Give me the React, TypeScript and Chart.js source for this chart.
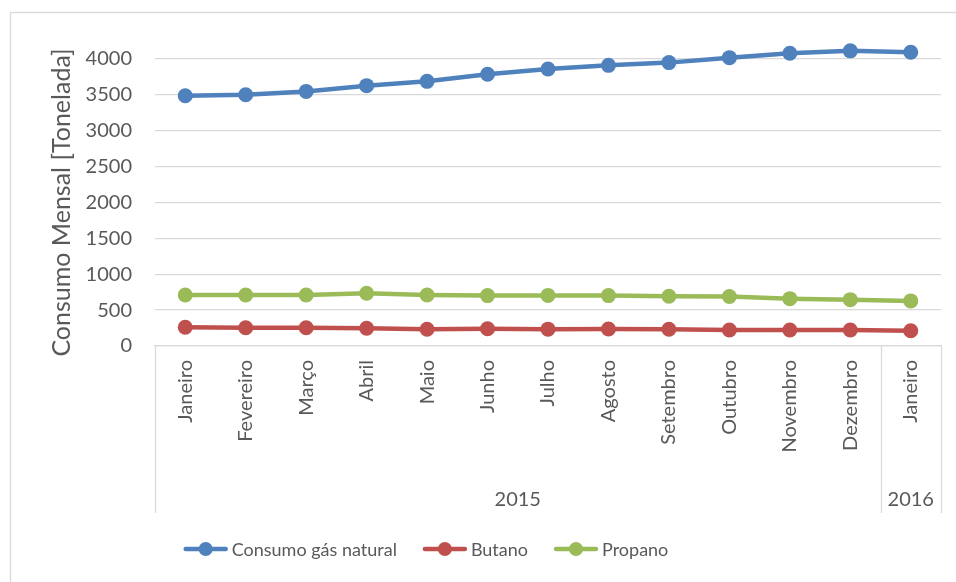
import React, { useEffect, useRef } from "react";
import { Chart, registerables } from "chart.js";

Chart.register(...registerables);

// Monthly categories (inner level) and year groups (outer level)
const months = [
  "Janeiro", "Fevereiro", "Março", "Abril", "Maio", "Junho", "Julho",
  "Agosto", "Setembro", "Outubro", "Novembro", "Dezembro", "Janeiro",
];
const yearLabels = ["2015", "2016"];
const yearSpans = [12, 1];

// Monthly consumption in tonnes
const gasNatural = [3486, 3500, 3547, 3627, 3687, 3785, 3860, 3910, 3948, 4017, 4078, 4112, 4092];
const butano = [261, 255, 255, 247, 233, 241, 235, 237, 233, 223, 223, 223, 213];
const propano = [711, 711, 711, 735, 711, 702, 705, 702, 693, 690, 660, 646, 628];

const yTicks = [0, 500, 1000, 1500, 2000, 2500, 3000, 3500, 4000];
const yTitle = "Consumo Mensal [Tonelada]";

const FONT = "Lato, 'DejaVu Sans', sans-serif";
const TEXT = "#595959";
const LINE = "#d9d9d9";

const seriesNames = ["Consumo gás natural", "Butano", "Propano"];
const seriesColors = ["#4F81BD", "#C0504D", "#9BBB59"];

// Chart frame, axis title, outer category level (years) and legend
const decorPlugin = {
  id: "decor",
  beforeDraw(chart: any) {
    const ctx = chart.ctx;
    ctx.save();
    ctx.strokeStyle = LINE;
    ctx.lineWidth = 1.3;
    ctx.strokeRect(10.5, 12.5, chart.width + 20, chart.height + 20);
    ctx.restore();
  },
  afterDraw(chart: any) {
    const ctx = chart.ctx;
    const xs = chart.scales.x;
    const ys = chart.scales.y;
    const area = chart.chartArea;
    const step = xs.getPixelForValue(1) - xs.getPixelForValue(0);
    const bottom = xs.bottom;

    ctx.save();

    // value axis title, centred on the labelled range
    const yMid = (ys.getPixelForValue(yTicks[0]) + ys.getPixelForValue(yTicks[yTicks.length - 1])) / 2;
    ctx.save();
    ctx.translate(area.left - 93, yMid);
    ctx.rotate(-Math.PI / 2);
    ctx.fillStyle = TEXT;
    ctx.font = `25px ${FONT}`;
    ctx.textAlign = "center";
    ctx.textBaseline = "middle";
    ctx.fillText(yTitle, 0, 0);
    ctx.restore();

    // group boundaries
    const bounds: number[] = [area.left];
    let idx = 0;
    yearSpans.forEach((n) => {
      idx += n;
      bounds.push(xs.getPixelForValue(idx - 1) + step / 2);
    });

    ctx.strokeStyle = LINE;
    ctx.lineWidth = 1.3;
    bounds.forEach((bx) => {
      ctx.beginPath();
      ctx.moveTo(Math.round(bx) + 0.5, area.bottom);
      ctx.lineTo(Math.round(bx) + 0.5, bottom);
      ctx.stroke();
    });

    ctx.fillStyle = TEXT;
    ctx.font = `20px ${FONT}`;
    ctx.textAlign = "center";
    ctx.textBaseline = "middle";
    yearLabels.forEach((lab, i) => {
      const cx = (bounds[i] + bounds[i + 1]) / 2;
      ctx.fillText(lab, cx, bottom - 13);
    });

    // legend: line + marker swatch, then label
    const lineLen = 44;
    const gapText = 4;
    const gapItem = 26;
    ctx.font = `18px ${FONT}`;
    const widths = seriesNames.map((s) => ctx.measureText(s).width);
    const total =
      widths.reduce((a, w) => a + lineLen + gapText + w, 0) + gapItem * (seriesNames.length - 1);
    let x = 426 - total / 2;
    const y = 549;
    ctx.textAlign = "left";
    seriesNames.forEach((name, i) => {
      ctx.strokeStyle = seriesColors[i];
      ctx.lineWidth = 4.5;
      ctx.lineCap = "round";
      ctx.beginPath();
      ctx.moveTo(x + 2, y);
      ctx.lineTo(x + lineLen - 2, y);
      ctx.stroke();
      ctx.fillStyle = seriesColors[i];
      ctx.beginPath();
      ctx.arc(x + lineLen / 2, y, 7, 0, Math.PI * 2);
      ctx.fill();
      ctx.fillStyle = TEXT;
      ctx.fillText(name, x + lineLen + gapText, y + 1);
      x += lineLen + gapText + widths[i] + gapItem;
    });
    ctx.restore();
  },
};

export default function App() {
  const canvasRef = useRef<HTMLCanvasElement | null>(null);

  useEffect(() => {
    if (!canvasRef.current) return;
    const mk = (label: string, data: number[], color: string) => ({
      label,
      data,
      borderColor: color,
      backgroundColor: color,
      borderWidth: 4.5,
      pointRadius: 7.5,
      pointHoverRadius: 7.5,
      pointBorderWidth: 0,
      pointBackgroundColor: color,
      tension: 0,
    });

    const chart = new Chart(canvasRef.current, {
      type: "line",
      data: {
        labels: months,
        datasets: [
          mk(seriesNames[0], gasNatural, seriesColors[0]),
          mk(seriesNames[1], butano, seriesColors[1]),
          mk(seriesNames[2], propano, seriesColors[2]),
        ],
      },
      plugins: [decorPlugin],
      options: {
        animation: false,
        responsive: false,
        maintainAspectRatio: false,
        layout: { padding: { left: 45, top: 23, right: 15, bottom: 69 } },
        plugins: {
          legend: { display: false },
          tooltip: { enabled: false },
        },
        scales: {
          x: {
            offset: true,
            grid: { display: false, drawTicks: false },
            border: { display: true, color: LINE, width: 1.3 },
            ticks: {
              color: TEXT,
              font: { family: FONT, size: 20 },
              maxRotation: 90,
              minRotation: 90,
              padding: 14,
              autoSkip: false,
            },
            afterFit(scale: any) {
              scale.height = 167;
              scale.paddingLeft = 0;
              scale.paddingRight = 0;
              scale.paddingTop = 0;
              scale.paddingBottom = 0;
            },
          },
          y: {
            min: 0,
            max: 4500,
            afterBuildTicks(scale: any) {
              scale.ticks = yTicks.map((v) => ({ value: v }));
            },
            grid: { color: LINE, lineWidth: 1.3, drawTicks: false },
            border: { display: false },
            ticks: {
              color: TEXT,
              font: { family: FONT, size: 20 },
              padding: 23,
              callback: (v: any) => String(v),
            },
            afterFit(scale: any) {
              scale.width = 110;
              scale.paddingTop = 0;
              scale.paddingBottom = 0;
              scale.paddingLeft = 0;
              scale.paddingRight = 0;
            },
          },
        },
      },
    });
    return () => chart.destroy();
  }, []);

  return (
    <div style={{ position: "fixed", left: 0, top: 0, width: 956, height: 582, background: "#fff" }}>
      <canvas ref={canvasRef} width={956} height={582} style={{ display: "block" }} />
    </div>
  );
}
